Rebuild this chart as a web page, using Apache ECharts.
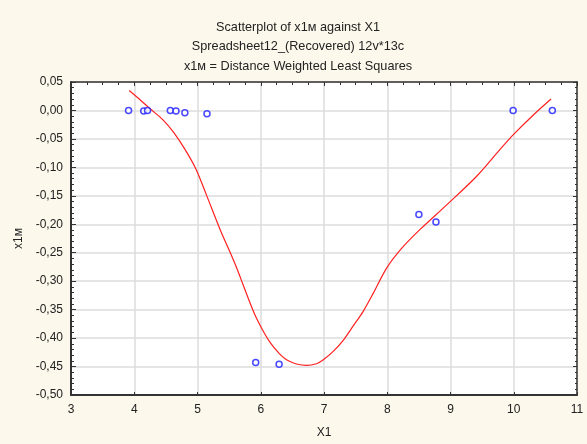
<!DOCTYPE html>
<html>
<head>
<meta charset="utf-8">
<script src="https://cdn.jsdelivr.net/npm/echarts@6/dist/echarts.min.js"></script>
<style>
html,body{margin:0;padding:0;background:#fdf8ec;}
#c{width:587px;height:444px;}
</style>
</head>
<body>
<div id="c"></div>
<script>
var titleLines = ['Scatterplot of x1м against X1', 'Spreadsheet12_(Recovered) 12v*13c', 'x1м = Distance Weighted Least Squares'];
var xName = 'X1';
var yName = 'x1м';
var pointsX = [3.91, 4.15, 4.21, 4.57, 4.66, 4.80, 5.15, 5.92, 6.29, 8.50, 8.77, 9.99, 10.61];
var pointsY = [0.000, -0.001, 0.000, 0.000, -0.001, -0.004, -0.006, -0.443, -0.446, -0.183, -0.196, 0.000, 0.000];
var curveX = [3.92, 4.10, 4.25, 4.45, 4.62, 4.80, 4.98, 5.15, 5.36, 5.51, 5.62, 5.73, 5.83, 5.92, 6.04, 6.15, 6.29, 6.38, 6.46, 6.58, 6.72, 6.88, 6.99, 7.15, 7.31, 7.46, 7.62, 7.78, 7.99, 8.23, 8.52, 8.94, 9.41, 9.78, 9.99, 10.31, 10.59];
var curveY = [0.035, 0.018, 0.003, -0.016, -0.038, -0.068, -0.104, -0.151, -0.210, -0.248, -0.277, -0.309, -0.338, -0.362, -0.388, -0.408, -0.427, -0.436, -0.441, -0.446, -0.448, -0.445, -0.438, -0.423, -0.403, -0.379, -0.353, -0.321, -0.277, -0.242, -0.209, -0.166, -0.116, -0.069, -0.043, -0.008, 0.020];

var pts = pointsX.map(function(x, i){ return [x, pointsY[i]]; });
var crv = curveX.map(function(x, i){ return [x, curveY[i]]; });

function fmtY(v){
  var s = (Math.abs(v) < 1e-9 ? 0 : v).toFixed(2);
  if (s === '-0.00') s = '0.00';
  return s.replace('.', ',');
}

var chart = echarts.init(document.getElementById('c'), null, {renderer:'canvas'});
var txt = '#222';
var font = 'Liberation Sans, Arial, sans-serif';
chart.setOption({
  backgroundColor: '#fdf8ec',
  animation: false,
  title: {
    text: titleLines.join('\n'),
    left: 293, top: 12.5, textAlign: 'center',
    textStyle: {fontFamily: font, fontSize: 12.7, fontWeight: 'normal', color: txt, lineHeight: 19.4}
  },
  grid: {left: 71, right: 10, top: 82, bottom: 48, show: true, backgroundColor: '#ffffff', borderWidth: 0},
  xAxis: [{
    type: 'value', min: 3, max: 11, interval: 1,
    name: xName, nameLocation: 'middle', nameGap: 32,
    nameTextStyle: {fontFamily: font, fontSize: 12, color: txt},
    axisLine: {show: true, onZero: false, lineStyle: {color: '#333', width: 2}},
    axisTick: {show: true, inside: true, length: 3, lineStyle: {color: '#333'}},
    axisLabel: {fontFamily: font, fontSize: 12, color: txt, margin: 9},
    splitLine: {show: true, lineStyle: {color: '#dcdcdc', width: 1.5}}
  }, {
    type: 'value', position: 'top', min: 3, max: 11, interval: 1,
    axisLine: {show: true, onZero: false, lineStyle: {color: '#333', width: 1.5}},
    axisTick: {show: true, inside: true, length: 4, lineStyle: {color: '#333'}},
    minorTick: {show: true, splitNumber: 4, length: 3, lineStyle: {color: '#333'}},
    axisLabel: {show: false},
    splitLine: {show: false}
  }],
  yAxis: [{
    type: 'value', min: -0.5, max: 0.05, interval: 0.05,
    name: yName, nameLocation: 'middle', nameGap: 45,
    nameTextStyle: {fontFamily: font, fontSize: 12, color: txt},
    axisLine: {show: true, onZero: false, lineStyle: {color: '#333', width: 2}},
    axisTick: {show: true, inside: true, length: 5, lineStyle: {color: '#333'}},
    minorTick: {show: true, splitNumber: 5, length: 3, lineStyle: {color: '#333'}},
    axisLabel: {fontFamily: font, fontSize: 12, color: txt, margin: 8, formatter: fmtY},
    splitLine: {show: true, lineStyle: {color: '#dcdcdc', width: 1.5}}
  }, {
    type: 'value', position: 'right', min: -0.5, max: 0.05, interval: 0.05,
    axisLine: {show: true, onZero: false, lineStyle: {color: '#333', width: 1.5}},
    axisTick: {show: true, inside: true, length: 4, lineStyle: {color: '#333'}},
    minorTick: {show: true, splitNumber: 5, length: 2, lineStyle: {color: '#333'}},
    axisLabel: {show: false},
    splitLine: {show: false}
  }],
  series: [{
    type: 'line', data: crv, smooth: 0.3, showSymbol: false, symbol: 'none',
    lineStyle: {color: '#ff2020', width: 1.2}, z: 3
  }, {
    type: 'scatter', data: pts, symbol: 'circle', symbolSize: 6,
    itemStyle: {color: '#ffffff', borderColor: '#1a1aff', borderWidth: 1.5}, z: 4
  }]
});
</script>
</body>
</html>
